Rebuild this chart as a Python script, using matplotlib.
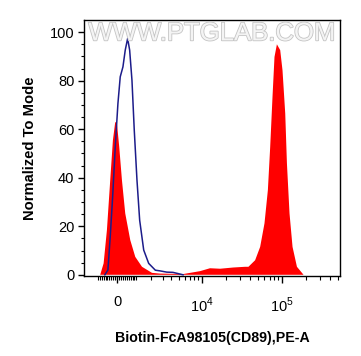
import numpy as np
import matplotlib
matplotlib.use('Agg')
import matplotlib.pyplot as plt
import matplotlib.patheffects as pe

plt.rcParams['font.family'] = ['Liberation Sans', 'DejaVu Sans']
plt.rcParams['mathtext.fontset'] = 'custom'
plt.rcParams['mathtext.rm'] = 'Liberation Sans'

# sample (red, filled) - raw fluorescence vs % of mode
red_x = [-1150, -897, -707, -530, -357, -219, -101, -15, 101, 239, 409, 675, 954, 1362,
         2067, 2750, 4190, 5710, 9430, 12600, 16900, 24600, 34700, 38200, 46300, 53500,
         60600, 66800, 71400, 76300, 80800, 86600, 95200, 101700, 110000, 115500,
         124400, 135700, 154000, 186200, 530000]
red_y = [0, 0, 4.7, 18.4, 39, 55.5, 63, 62.4, 52.7, 39, 25.3, 14.3, 7.4, 3.3,
         0.8, 0.5, 0.4, 0.3, 1.5, 2.7, 2.5, 3.0, 3.3, 3.3, 6, 11.5,
         21.2, 34.9, 52.7, 73.3, 89.8, 95, 92.6, 84.3, 66.5, 45.9,
         25.3, 11.5, 3.3, 0, 0]

# control (blue line)
blue_x = [-640, -477, -357, -234, -101, 35, 152, 290, 409, 535, 642, 768, 897, 1054,
          1216, 1473, 1818, 2338, 2775, 3436, 4190, 4900, 5710]
blue_y = [0, 2, 15.7, 32, 52.7, 70.6, 81.6, 85.7, 92.6, 97.4, 92.6, 80.2, 59.6, 39,
          22.5, 10.2, 4.7, 1.9, 1.6, 1.1, 1.0, 0.5, 0]

major_ticks = [0, 1e4, 1e5]
major_labels = ['0', '$10^4$', '$10^5$']
minor_ticks = ([-v for v in range(100, 1001, 100)] + list(range(100, 1000, 100))
               + list(range(1000, 10000, 1000)) + list(range(20000, 100000, 10000))
               + list(range(200000, 600000, 100000)))

# biex-like axis: linear near zero, log further out
W = 1762.0
def fwd(x):
    return np.arcsinh(np.asarray(x) / W) / np.log(10)
def inv(y):
    return W * np.sinh(np.asarray(y) * np.log(10))

fig = plt.figure(figsize=(3.61, 3.56), dpi=100)
ax = fig.add_axes([0.2327, 0.2247, 0.709, 0.719])
ax.set_xscale('function', functions=(fwd, inv))

ax.fill(red_x + red_x[::-1], red_y + [0] * len(red_y), color='#ff0000', linewidth=0, zorder=2)
ax.plot(blue_x, blue_y, color='#1c1c8a', linewidth=1.1, zorder=3)

ax.set_xlim(-1950, 5.3e5)
ax.set_ylim(-0.5, 105)

ax.set_xticks(major_ticks)
ax.set_xticklabels(major_labels)
ax.set_xticks(minor_ticks, minor=True)
ax.set_yticks([0, 20, 40, 60, 80, 100])
ax.set_yticks(np.arange(0, 105, 5), minor=True)

ax.tick_params(axis='x', which='major', length=5, width=1, pad=9, labelsize=10.5)
ax.tick_params(axis='x', which='minor', length=3, width=0.8)
ax.tick_params(axis='y', which='major', length=4, width=1, pad=3, labelsize=10.5)
ax.tick_params(axis='y', which='minor', length=2, width=0.8)
for s in ax.spines.values():
    s.set_linewidth(1)

ax.set_xlabel('Biotin-FcA98105(CD89),PE-A', fontsize=10.2, fontweight='bold', labelpad=12)
ax.set_ylabel('Normalized To Mode', fontsize=10.6, fontweight='bold', labelpad=9)

ax.text(0.5, 0.948, 'WWW.PTGLAB.COM', transform=ax.transAxes, ha='center', va='center',
        fontsize=18.5, color='#f4f4f4', zorder=5,
        path_effects=[pe.withStroke(linewidth=1.2, foreground='#c4c4c4')])

fig.savefig('out.png', dpi=100)
